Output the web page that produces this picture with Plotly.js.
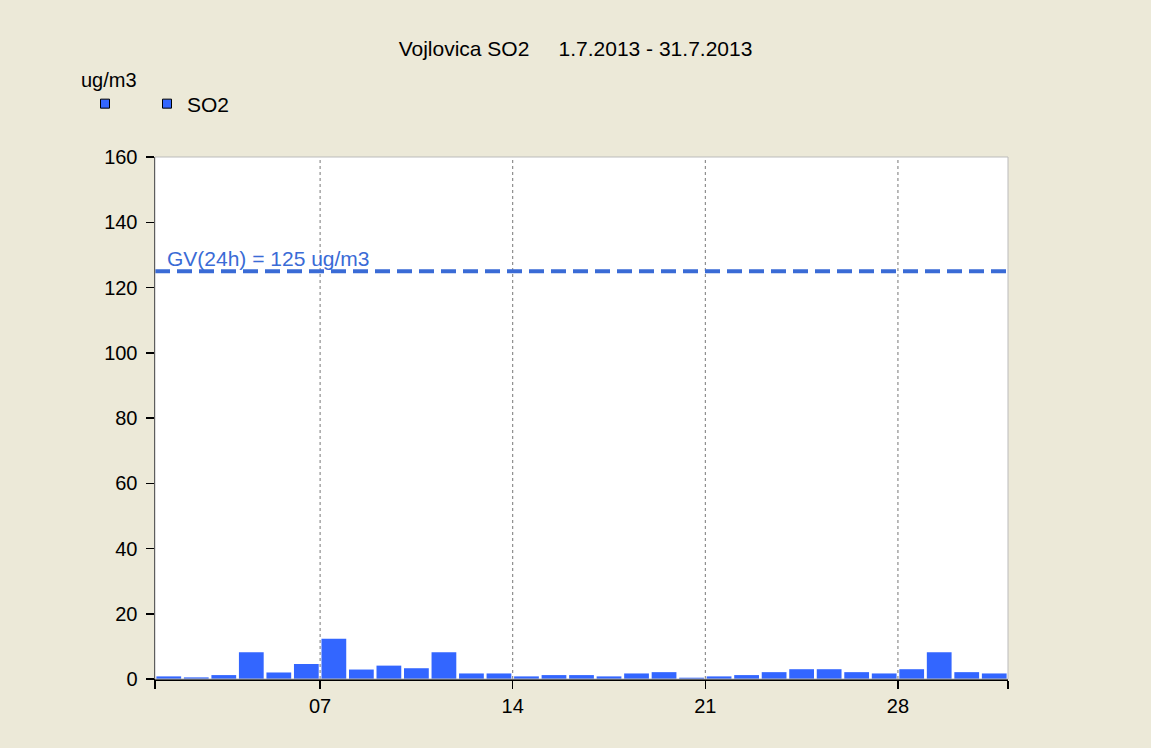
<!DOCTYPE html>
<html>
<head>
<meta charset="utf-8">
<script src="https://cdn.plot.ly/plotly-3.0.1.min.js"></script>
<style>
html,body{margin:0;padding:0;background:#ECE9D8;}
#chart{width:1151px;height:748px;}
</style>
</head>
<body>
<div id="chart"></div>
<script>
// Daily SO2 values, 1.7.2013 - 31.7.2013 (ug/m3)
const days = [1,2,3,4,5,6,7,8,9,10,11,12,13,14,15,16,17,18,19,20,21,22,23,24,25,26,27,28,29,30,31];
const so2 = [0.8,0.5,1.2,8.2,2.0,4.6,12.3,2.9,4.1,3.3,8.2,1.7,1.7,0.8,1.2,1.2,0.8,1.7,2.1,0.4,0.8,1.2,2.1,3.0,3.0,2.1,1.7,3.0,8.2,2.1,1.7];
const gvValue = 125;
const gvLabel = "GV(24h) = 125 ug/m3";
const xTickVals = [1,7,14,21,28,32];
const xTickText = ["","07","14","21","28",""];
const yTickVals = [0,20,40,60,80,100,120,140,160];

const font = "Liberation Sans, Arial, sans-serif";
const barColor = "#3366ff";
const gvColor = "#3a6bd6";

const traces = [
  {
    type: "scatter", mode: "markers", x: [null], y: [null], name: " ",
    marker: {symbol: "square", size: 9, color: barColor, line: {color: "#000", width: 1}},
    showlegend: true, legend: "legend", hoverinfo: "skip"
  },
  {
    type: "scatter", mode: "markers", x: [null], y: [null], name: "SO2",
    marker: {symbol: "square", size: 9, color: barColor, line: {color: "#000", width: 1}},
    showlegend: true, legend: "legend2", hoverinfo: "skip"
  },
  {
    type: "bar", x: days.map(d => d + 0.5), y: so2, width: 0.9,
    marker: {color: barColor, line: {width: 0}},
    showlegend: false, name: "SO2"
  },
  {
    type: "scatter", mode: "lines", x: [1, 32], y: [gvValue, gvValue],
    line: {color: gvColor, width: 4, dash: "15px,7px"},
    showlegend: false, hoverinfo: "skip"
  }
];

const legendBase = {
  orientation: "h", xref: "container", xanchor: "left",
  y: 1 - 104 / 748, yref: "container", yanchor: "middle",
  bgcolor: "rgba(0,0,0,0)", font: {family: font, size: 21, color: "#000"},
  itemclick: false
};

const layout = {
  width: 1151, height: 748,
  paper_bgcolor: "#ECE9D8",
  plot_bgcolor: "#ffffff",
  margin: {l: 155, r: 143, t: 157, b: 69},
  font: {family: font, size: 20, color: "#000"},
  title: {text: "Vojlovica SO2&nbsp;&nbsp;&nbsp;&nbsp;&nbsp;1.7.2013 - 31.7.2013", x: 0.5, xref: "container", xanchor: "center", y: 1 - 49 / 748, yref: "container", yanchor: "middle", font: {family: font, size: 21, color: "#000"}},
  showlegend: true,
  legend: Object.assign({}, legendBase, {x: 85 / 1151}),
  legend2: Object.assign({}, legendBase, {x: 147 / 1151}),
  xaxis: {
    range: [1, 32], tickmode: "array", tickvals: xTickVals, ticktext: xTickText,
    ticks: "outside", ticklen: 8, tickcolor: "#000", tickwidth: 1.5,
    showline: true, linecolor: "#000", linewidth: 1.5,
    showgrid: false, zeroline: false, fixedrange: true,
    tickfont: {family: font, size: 20, color: "#000"}
  },
  yaxis: {
    range: [0, 160], tickmode: "array", tickvals: yTickVals,
    ticks: "outside", ticklen: 8, tickcolor: "#000", tickwidth: 1.5,
    ticklabelstandoff: 4,
    showline: true, linecolor: "#000", linewidth: 1.5,
    showgrid: false, zeroline: false, fixedrange: true,
    tickfont: {family: font, size: 20, color: "#000"}
  },
  shapes: [
    ...[7,14,21,28].map(v => ({type: "line", xref: "x", yref: "paper", x0: v, x1: v, y0: 0, y1: 1, line: {color: "#777", width: 1, dash: "dot"}, layer: "below"})),
    {type: "rect", xref: "paper", yref: "paper", x0: 0, x1: 1, y0: 0, y1: 1, line: {color: "#bbbbbb", width: 1}}
  ],
  annotations: [
    {text: "ug/m3", xref: "paper", yref: "paper", x: -0.0887, y: 1.1475, xanchor: "left", yanchor: "middle", showarrow: false, font: {family: font, size: 20, color: "#000"}},
    {text: gvLabel, xref: "x", yref: "y", x: 1.35, y: gvValue, xanchor: "left", yanchor: "bottom", yshift: -1, showarrow: false, font: {family: font, size: 21, color: gvColor}}
  ]
};

Plotly.newPlot("chart", traces, layout, {displayModeBar: false, staticPlot: true});
</script>
</body>
</html>
